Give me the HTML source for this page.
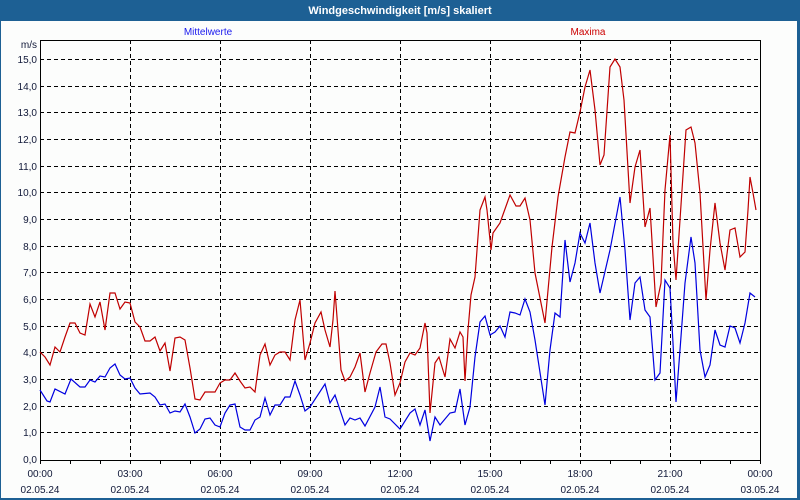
<!DOCTYPE html>
<html><head><meta charset="utf-8"><style>
html,body{margin:0;padding:0;background:#1d6094;}
svg{display:block;font-family:"Liberation Sans",sans-serif;}
</style></head><body>
<svg width="800" height="500" xmlns="http://www.w3.org/2000/svg">
<rect x="0" y="0" width="800" height="500" fill="#1d6094"/>
<rect x="1" y="21" width="796" height="477" fill="#fcfdfc"/>
<text x="400" y="14" fill="#fff" font-size="11" font-weight="bold" text-anchor="middle">Windgeschwindigkeit [m/s] skaliert</text>
<text x="208" y="35" fill="#1a1aee" font-size="10" text-anchor="middle">Mittelwerte</text>
<text x="588" y="35" fill="#cc0000" font-size="10" text-anchor="middle">Maxima</text>
<g stroke="#000" stroke-width="1" stroke-dasharray="4,3" fill="none">
<path d="M40 59.5H760M40 86.5H760M40 112.5H760M40 139.5H760M40 166.5H760M40 192.5H760M40 219.5H760M40 246.5H760M40 272.5H760M40 299.5H760M40 326.5H760M40 352.5H760M40 379.5H760M40 406.5H760M40 432.5H760"/>
<path d="M130.5 40V460M220.5 40V460M310.5 40V460M400.5 40V460M490.5 40V460M580.5 40V460M670.5 40V460"/>
</g>
<path d="M40.5 40V460.5H760.5V40.5H40" stroke="#000" stroke-width="1" fill="none"/>
<path d="M70.5 460v4M100.5 460v4M130.5 460v4M160.5 460v4M190.5 460v4M220.5 460v4M250.5 460v4M280.5 460v4M310.5 460v4M340.5 460v4M370.5 460v4M400.5 460v4M430.5 460v4M460.5 460v4M490.5 460v4M520.5 460v4M550.5 460v4M580.5 460v4M610.5 460v4M640.5 460v4M670.5 460v4M700.5 460v4M730.5 460v4M40.5 460v4M760.5 460v4" stroke="#000"/>
<g font-size="10" fill="#101838" text-anchor="end">
<text x="37" y="48">m/s</text>
<text x="37" y="63">15,0</text><text x="37" y="90">14,0</text><text x="37" y="116">13,0</text><text x="37" y="143">12,0</text><text x="37" y="170">11,0</text><text x="37" y="196">10,0</text><text x="37" y="223">9,0</text><text x="37" y="250">8,0</text><text x="37" y="276">7,0</text><text x="37" y="303">6,0</text><text x="37" y="330">5,0</text><text x="37" y="356">4,0</text><text x="37" y="383">3,0</text><text x="37" y="410">2,0</text><text x="37" y="436">1,0</text><text x="37" y="463">0,0</text>
</g>
<g font-size="10" fill="#101838" text-anchor="middle">
<text x="40" y="477">00:00</text><text x="130" y="477">03:00</text><text x="220" y="477">06:00</text><text x="310" y="477">09:00</text><text x="400" y="477">12:00</text><text x="490" y="477">15:00</text><text x="580" y="477">18:00</text><text x="670" y="477">21:00</text><text x="760" y="477">00:00</text>
<text x="40" y="493">02.05.24</text><text x="130" y="493">02.05.24</text><text x="220" y="493">02.05.24</text><text x="310" y="493">02.05.24</text><text x="400" y="493">02.05.24</text><text x="490" y="493">02.05.24</text><text x="580" y="493">02.05.24</text><text x="670" y="493">02.05.24</text><text x="760" y="493">03.05.24</text>
</g>
<polyline fill="none" stroke="#c00000" stroke-width="1.2" points="40,352 45,357 50,365 55,347 60,352 65,337 70,323 75,323 80,333 85,335 90,304 95,317 100,302 105,330 110,293 115,293 120,309 125,302 130,303 135,322 140,327 145,341 150,341 155,337 160,351 165,343 170,371 175,338 180,337 185,340 190,368 195,399 200,400 205,392 215,392 220,383 225,380 230,380 235,373 240,381 245,388 250,387 255,392 260,355 265,344 270,365 275,355 280,352 285,352 290,360 295,320 300,300 305,360 310,343 315,323 321,312 325,330 330,347 333,320 335,291 337,317 341,370 345,381 350,377 355,367 360,353 365,392 370,373 376,352 382,344 386,344 390,363 395,395 400,383 405,362 410,353 415,355 420,348 425,323 427,333 430,413 435,363 439,357 445,377 450,339 455,348 460,332 463,337 465,381 468,330 471,295 475,277 480,210 485,197 487,210 491,250 493,233 500,223 510,195 516,206 520,206 525,198 530,220 535,273 545,323 552,247 558,197 565,157 570,132 575,133 580,112 585,87 590,70 595,110 600,165 604,155 610,67 615,59 620,67 624,100 630,203 635,167 640,150 645,227 650,208 656,307 661,283 665,190 670,135 673,243 676,280 680,220 686,130 691,127 695,143 700,193 706,300 710,250 715,203 720,243 725,270 730,230 735,228 740,257 745,252 748,210 750,177 753,193 756,210"/>
<polyline fill="none" stroke="#0000e0" stroke-width="1.2" points="40,390 47,401 50,402 55,389 65,394 71,379 80,387 85,387 90,380 95,382 100,376 105,377 110,368 115,364 120,375 125,379 130,378 135,388 140,394 150,393 155,397 160,405 165,404 170,413 175,411 180,412 185,404 190,417 195,433 200,429 205,419 210,418 215,425 220,427 225,413 230,405 235,404 240,427 245,430 250,430 255,420 260,417 265,398 270,415 275,405 280,405 285,397 290,397 295,381 300,395 305,411 310,407 325,384 330,403 335,395 345,425 350,418 355,420 360,418 365,426 375,407 380,387 385,417 390,419 400,429 410,413 415,409 420,425 425,410 430,441 435,417 440,425 450,413 455,412 460,389 465,425 470,407 475,357 480,322 485,316 490,335 495,332 500,326 505,337 510,312 515,313 520,315 525,299 530,312 535,340 545,405 550,350 555,313 560,317 565,240 570,282 575,263 580,233 585,243 590,223 595,263 600,293 610,250 620,197 625,250 630,320 635,283 640,277 645,310 650,317 655,380 660,373 665,280 670,288 673,343 676,402 680,350 685,283 691,237 695,263 700,350 705,377 710,365 715,330 720,345 725,347 730,326 735,328 740,343 745,323 750,293 755,297"/>
</svg>
</body></html>
